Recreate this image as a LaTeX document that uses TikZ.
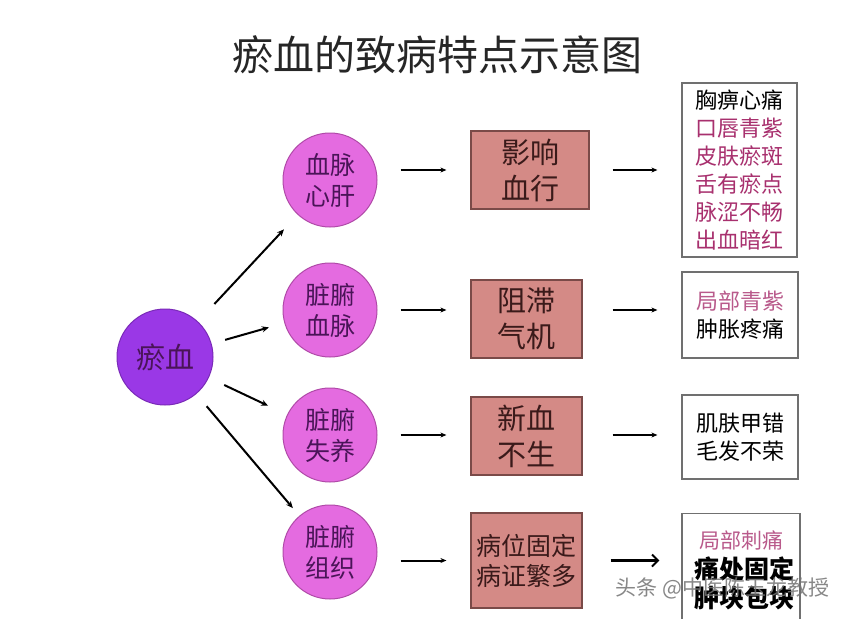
\documentclass[tikz,border=0pt]{standalone}
\usepackage{fontspec}
\newfontfamily\cjk{Noto Sans CJK SC}
\usetikzlibrary{arrows.meta,calc}
\definecolor{mainv}{HTML}{9A38E6}
\definecolor{mainvb}{HTML}{7A2AB8}
\definecolor{pinkc}{HTML}{E46BE0}
\definecolor{pinkb}{HTML}{B04AA8}
\definecolor{boxc}{HTML}{D48A86}
\definecolor{boxb}{HTML}{7A4A48}
\definecolor{txtp}{HTML}{4A1458}
\definecolor{txtr}{HTML}{3A1A1A}
\definecolor{magt}{HTML}{A8306E}
\definecolor{rgray}{HTML}{707070}
\begin{document}
\begin{tikzpicture}[x=1pt,y=-1pt,font=\cjk,
  maincirc/.style={circle,fill=mainv,draw=mainvb,line width=1pt,minimum size=96pt,inner sep=0pt,text=txtp,font=\cjk\fontsize{29}{32}\selectfont},
  organ/.style={circle,fill=pinkc,draw=pinkb,line width=1pt,minimum size=94pt,inner sep=0pt,text=txtp,align=center,font=\cjk\fontsize{25}{31}\selectfont},
  effect/.style={rectangle,fill=boxc,draw=boxb,line width=1.2pt,inner sep=0pt,text=txtr,align=center},
  sympt/.style={rectangle,fill=white,draw=rgray,line width=1.2pt,inner sep=0pt,align=center,font=\cjk\fontsize{22}{28}\selectfont},
  arr/.style={line width=2pt,-{Stealth[length=7pt,width=6pt]}},
  harr/.style={line width=2pt,-{Stealth[length=6pt,width=5pt]}},
  barr/.style={line width=2.4pt,-{Straight Barb[length=6pt,width=12pt,line width=2pt]}}]
\useasboundingbox[fill=white] (0,0) rectangle (850,618);

\node[font=\cjk\fontsize{41}{44}\selectfont,text=black!85] (title) at (437,55) {瘀血的致病特点示意图};

\node[maincirc] (m) at (165,357) {瘀血};

\node[organ] (o1) at (330,180) {血脉\\心肝};
\node[organ] (o2) at (330,310) {脏腑\\血脉};
\node[organ] (o3) at (330,435) {脏腑\\失养};
\node[organ] (o4) at (330,552) {脏腑\\组织};

\node[effect,minimum width=118pt,minimum height=78pt,font=\cjk\fontsize{29}{36}\selectfont] (e1) at (530,170) {影响\\血行};
\node[effect,minimum width=111pt,minimum height=78pt,font=\cjk\fontsize{29}{36}\selectfont] (e2) at (526.5,319) {阻滞\\气机};
\node[effect,minimum width=111pt,minimum height=78pt,font=\cjk\fontsize{29}{36}\selectfont] (e3) at (526.5,436) {新血\\不生};
\node[effect,minimum width=111pt,minimum height=95pt,font=\cjk\fontsize{25}{30}\selectfont] (e4) at (526.5,560.5) {病位固定\\病证繁多};

\node[sympt,minimum width=115pt,minimum height=174pt] (s1) at (739.5,170) {胸痹心痛\\\textcolor{magt}{口唇青紫}\\\textcolor{magt}{皮肤瘀斑}\\\textcolor{magt}{舌有瘀点}\\\textcolor{magt}{脉涩不畅}\\\textcolor{magt}{出血暗红}};
\node[sympt,minimum width=116pt,minimum height=86pt] (s2) at (740,315) {\textcolor{magt!80}{局部青紫}\\肿胀疼痛};
\node[sympt,minimum width=116pt,minimum height=84pt] (s3) at (740,437) {肌肤甲错\\毛发不荣};
\node[sympt,minimum width=118pt,minimum height=110pt,anchor=north] (s4) at (741,513) {};
\node[font=\cjk\fontsize{21}{24}\selectfont,text=magt!80] (s4a) at (741,540) {局部刺痛};
\node[font=\cjk\bfseries\fontsize{25}{29}\selectfont,align=center] (s4b) at (744,583) {痛处固定\\肿块包块};

% main circle to organs
\draw[arr,shorten <=24pt,shorten >=20pt] (m) -- (o1);
\draw[arr,shorten <=14pt,shorten >=16pt] (m) -- (o2);
\draw[arr,shorten <=17pt,shorten >=21pt] (m) -- (o3);
\draw[arr,shorten <=16pt,shorten >=10pt] (m) -- (o4);

% organs to effects
\draw[harr,shorten <=23pt,shorten >=24pt] (o1.east |- e1.west) -- (e1.west);
\draw[harr,shorten <=23pt,shorten >=24pt] (o2.east) -- (o2.east -| e2.west);
\draw[harr,shorten <=23pt,shorten >=24pt] (o3.east) -- (o3.east -| e3.west);
\draw[harr,shorten <=23pt,shorten >=24pt] (o4.east |- e4.west) -- (e4.west);

% effects to symptoms
\draw[harr,shorten <=23pt,shorten >=24pt] (e1.east) -- (e1.east -| s1.west);
\draw[harr,shorten <=30pt,shorten >=24pt] (e2.east |- o2.east) -- (o2.east -| s2.west);
\draw[harr,shorten <=30pt,shorten >=24pt] (e3.east |- o3.east) -- (o3.east -| s3.west);
\draw[barr,shorten <=28pt,shorten >=22pt] (e4.east) -- (e4.east -| s4.west);

% watermark
\node[font=\cjk\fontsize{21}{24}\selectfont,text=black!55,opacity=0.85,anchor=west] (wm) at (612,588) {头条 @中医陈玉龙教授};
\end{tikzpicture}
\end{document}
